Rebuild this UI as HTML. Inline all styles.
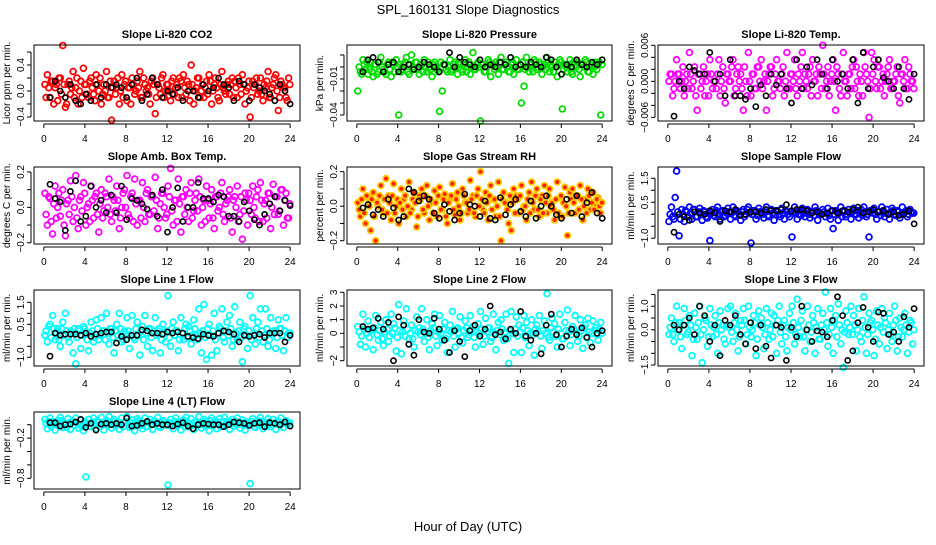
<!DOCTYPE html>
<html><head><meta charset="utf-8"><style>
body{margin:0;background:#fff;}
svg text{font-family:"Liberation Sans",Arial,sans-serif;}
</style></head><body>
<svg id="chart" width="936" height="540" xmlns="http://www.w3.org/2000/svg">
<rect width="936" height="540" fill="#fff"/>
<text x="468" y="14" font-size="13" text-anchor="middle">SPL_160131  Slope Diagnostics</text>
<text x="468" y="531" font-size="13" text-anchor="middle">Hour of Day (UTC)</text>
</svg>
<script>
// ---- data ----
const co2A=[0.1,0.25,-0.1,0.15,0.05,-0.15,0.2,0.7,-0.25,0.1,-0.05,0.3,0.05,-0.2,0.15,0.35,0.1,-0.1,0.2,-0.05,0.25,0.0,-0.2,0.1,0.3,-0.1,-0.45,0.15,0.05,-0.2,0.25,0.1,-0.15,0.05,0.2,-0.05,0.15,0.3,-0.1,0.1,0.05,-0.2,0.2,-0.35,0.1,-0.05,0.25,0.0,0.1,-0.15,0.2,0.05,-0.1,0.15,0.25,-0.05,0.1,0.4,-0.2,0.05,0.2,0.0,-0.1,0.15,0.25,-0.2,0.1,0.05,-0.15,0.3,0.0,0.1,-0.05,0.2,0.15,-0.1,0.1,0.25,-0.2,0.05,-0.4,0.15,0.1,-0.05,0.2,-0.15,0.05,0.3,-0.1,0.1,0.25,-0.3,0.15,0.05,-0.1,0.2];
const co2B=[-0.1,0.05,0.15,-0.2,0.1,0.2,-0.05,0.1,-0.2,0.15,0.05,-0.1,0.2,0.0,-0.1,0.1,-0.05,0.15,0.05,-0.15,0.1,0.2,-0.05,0.0,-0.1,0.15,0.05,-0.05,0.2,0.0,-0.1,0.15,0.05,-0.2,0.1,0.0,0.05,-0.1,0.2,0.0,-0.05,0.15,0.1,-0.1,0.05,0.2,-0.1,0.1,0.0,0.15,-0.05,0.1,0.2,-0.1,0.05,0.15,-0.15,0.1,0.0,0.2,-0.1,0.1,0.05,-0.05,0.15,0.0,0.2,-0.1,0.1,0.05,-0.05,0.15,0.1,-0.1,0.05,0.2,-0.05,0.1,0.0,0.15,-0.1,0.05,0.2,0.0,-0.05,0.1,0.15,-0.1,0.05,0.2,0.0,-0.1,0.1,0.05,-0.15,0.1];
const co2K=[-0.1,0.15,0.0,-0.1,0.1,-0.15,-0.2,-0.05,-0.15,0.1,-0.1,0.1,0.05,0.1,0.05,-0.1,0.1,0.2,-0.15,-0.05,0.2,0.1,-0.1,0.0,-0.05,0.05,-0.15,0.0,0.0,-0.1,0.1,0.0,0.05,0.2,0.1,0.05,-0.15,0.15,0.1,-0.15,0.1,0.05,0.0,-0.05,-0.15,0.1,0.0,-0.2];

const presA=[-0.02,-0.004,0.006,-0.002,-0.006,0.004,-0.008,0.002,-0.004,0.008,-0.002,-0.006,0.004,-0.008,0.002,0.006,-0.04,-0.004,0.002,0.008,-0.006,0.01,-0.002,0.004,-0.006,0.002,0.006,-0.004,0.0,-0.008,0.004,-0.002,-0.037,-0.02,0.002,-0.004,0.006,-0.002,0.004,-0.006,0.002,-0.004,0.006,0.0,-0.006,0.012,-0.002,0.004,-0.045,0.002,-0.004,0.006,-0.008,0.002,0.004,-0.006,0.008,-0.002,0.004,-0.004,0.002,-0.006,0.006,-0.002,-0.03,-0.016,0.008,-0.004,0.002,0.006,-0.002,0.004,-0.006,0.002,0.008,-0.004,0.0,0.004,-0.008,0.006,-0.035,0.002,-0.004,0.006,-0.006,0.002,0.004,-0.008,0.002,0.006,-0.004,0.0,-0.006,0.004,0.002,-0.04];
const presB=[0.0,-0.006,0.002,0.004,-0.002,-0.004,0.002,-0.006,0.004,0.0,-0.004,0.002,-0.002,0.004,-0.004,0.0,0.002,-0.002,0.004,-0.004,0.002,0.0,0.004,-0.002,0.002,-0.004,0.0,0.004,-0.002,0.002,0.0,-0.004,0.004,0.002,-0.002,0.0,-0.004,0.002,0.0,0.004,-0.002,0.002,-0.004,0.004,0.0,-0.002,0.002,0.0,0.002,-0.004,0.0,0.004,0.002,-0.002,0.0,0.004,-0.002,0.002,0.0,-0.004,0.004,0.0,-0.002,0.002,0.004,-0.002,0.0,0.002,-0.004,0.004,0.0,0.002,0.0,-0.002,0.004,0.002,-0.004,0.0,0.002,0.004,-0.002,0.0,0.002,-0.004,0.004,0.0,-0.002,0.002,0.0,0.004,-0.004,0.002,0.0,-0.002,0.004,0.002];
const presK=[-0.004,0.006,0.008,0.004,-0.004,0.002,0.004,-0.004,0.0,0.002,-0.002,0.0,0.004,0.002,0.0,-0.004,0.002,0.012,0.0,0.008,0.004,0.002,0.0,0.006,0.0,0.002,0.0,0.004,0.002,0.008,0.0,0.002,0.0,0.004,0.002,0.0,0.008,0.006,0.0,-0.006,0.002,0.0,0.006,0.002,0.0,0.004,0.002,0.006];

const tempA=[0,0.0012,-0.0012,0.0036,0.0012,0,-0.0024,0.0012,0.0048,-0.0012,0.0024,-0.0048,0.0012,0,-0.0024,0.0012,0.0036,-0.0012,0,0.0012,-0.0024,0.0024,-0.0036,0.0012,0,0.0036,-0.0012,0.0024,0.0012,-0.0048,0,0.0048,-0.0024,0.0012,-0.0012,0.0024,0.0036,0,-0.0048,0.0012,0.0024,-0.0012,0.0036,0,0.0012,-0.0024,0.0048,-0.0012,0.0012,0.0036,-0.0024,0,0.0048,0.0012,-0.0012,0.0024,0.0036,0,-0.0024,0.0012,0.006,-0.0012,0.0024,0,0.0036,-0.0048,0.0012,-0.0024,0.0048,0,0.0012,-0.0012,0.0036,0.0024,-0.0024,0,0.0048,0.0012,-0.006,0.0048,0.0036,-0.0012,0.0024,0,-0.0024,0.0012,0.0036,-0.0012,0,0.0024,-0.0036,0.0012,0.0036,-0.0012,0.0012,0];
const tempB=[0.0012,-0.0024,0,0.0012,-0.0012,0.0024,0,-0.0012,0.0012,0,-0.0024,0.0012,-0.0012,0.0024,0,-0.0024,0.0012,0,-0.0012,0.0036,0,-0.0012,0.0012,0,0.0024,-0.0024,0.0012,0,-0.0012,0.0024,-0.0024,0,0.0012,-0.0012,0.0024,0,-0.0012,0.0012,0,0.0024,-0.0024,0.0012,0,-0.0012,0.0024,0,-0.0012,0.0012,0,-0.0012,0.0012,0.0024,-0.0012,0,0.0012,-0.0024,0,0.0012,0.0024,-0.0012,0.0012,0,-0.0024,0.0012,0,0.0024,-0.0012,0.0012,0,-0.0024,0.0012,0.0024,-0.0012,0,0.0012,-0.0024,0.0024,0,-0.0012,0.0012,0,0.0024,-0.0012,0.0012,0,0.0024,-0.0012,0,0.0012,-0.0024,0.0012,0,-0.0012,0.0024,0,-0.0012];
const tempK=[-0.0058,0.0,-0.0012,0.0024,0.0018,0.0012,0.0012,0.0048,0.0,0.0012,-0.0024,0.0036,-0.0024,-0.0024,-0.003,-0.0012,-0.0042,-0.0006,-0.0024,0.0012,-0.0006,0.0012,-0.0012,-0.0036,0.0036,-0.0012,0.0024,-0.0006,0.0036,0.0012,-0.0012,0.0036,0.0,0.0012,-0.0012,0.0036,-0.0036,0.0048,-0.0012,0.0024,0.0036,0.0006,0.0,-0.0012,0.0024,-0.0012,-0.003,0.0012];

const ambA=[0.08,-0.1,0.05,-0.15,0.12,0.0,-0.05,0.1,-0.16,0.04,0.15,-0.08,0.18,-0.12,0.06,0.14,-0.1,0.02,0.12,-0.06,0.08,-0.14,0.1,-0.02,0.06,0.16,-0.08,0.04,0.12,-0.12,0.0,0.1,0.18,-0.06,0.08,0.16,-0.1,0.04,0.14,-0.08,0.1,-0.04,0.06,0.17,-0.12,0.02,0.08,-0.06,0.12,0.22,-0.1,0.04,0.16,-0.14,0.06,0.1,-0.08,0.14,-0.02,0.08,0.16,-0.1,0.04,0.12,-0.06,0.1,-0.12,0.06,0.0,0.14,-0.08,0.04,0.1,-0.14,0.06,0.12,-0.04,-0.18,0.08,-0.1,0.04,0.12,-0.06,0.1,0.14,-0.08,0.04,0.08,-0.12,0.13,0.06,-0.04,0.1,-0.1,0.08,-0.06];
const ambB=[-0.04,0.06,-0.08,0.02,-0.06,0.08,0.04,-0.1,0.02,-0.04,0.06,0.0,-0.06,0.04,-0.02,0.08,0.0,-0.08,0.04,0.06,-0.04,0.02,-0.06,0.08,0.0,-0.04,0.06,-0.02,0.04,-0.06,0.08,0.0,-0.04,0.06,-0.08,0.02,0.04,-0.06,0.0,0.08,-0.04,0.06,-0.02,0.04,-0.06,0.08,0.0,-0.04,0.06,-0.02,0.04,-0.08,0.02,0.06,-0.04,0.0,0.08,-0.06,0.04,-0.02,0.06,0.0,-0.08,0.04,0.02,-0.06,0.06,-0.02,0.08,-0.04,0.02,0.06,-0.06,0.04,0.0,-0.08,0.06,-0.02,0.04,0.08,-0.04,0.0,0.06,-0.08,0.04,0.02,-0.06,0.08,0.0,-0.04,0.06,-0.02,0.1,0.04,-0.06,0.02];
const ambK=[0.13,0.05,0.03,-0.13,0.09,0.15,-0.08,-0.05,0.12,0.0,0.04,-0.03,0.07,-0.03,0.12,-0.07,0.05,0.04,0.02,-0.01,0.07,-0.05,0.1,-0.14,0.0,0.11,-0.08,0.0,0.0,0.14,0.05,0.05,0.03,0.07,0.06,-0.05,-0.05,-0.08,0.03,-0.02,-0.07,-0.1,-0.04,0.02,0.06,-0.02,0.04,0.01];

const rhA=[0.02,-0.06,0.1,-0.1,0.05,-0.14,0.08,-0.2,0.0,0.12,-0.04,0.16,0.06,-0.08,0.13,0.0,-0.1,0.1,0.04,-0.06,0.14,-0.02,0.08,-0.12,0.06,0.1,-0.04,0.12,-0.08,0.02,0.09,-0.06,0.11,-0.02,0.07,-0.1,0.04,0.13,-0.05,0.08,-0.08,0.1,0.02,-0.04,0.15,0.06,-0.06,0.1,0.2,-0.02,0.08,-0.08,0.12,0.04,-0.06,0.14,-0.2,0.08,0.02,-0.1,-0.14,0.1,0.06,-0.04,0.12,0.0,-0.08,0.08,0.14,-0.02,0.1,-0.06,0.06,0.12,-0.04,0.1,0.02,-0.08,0.14,0.05,-0.06,0.11,-0.17,0.08,0.1,-0.04,0.06,0.12,-0.08,0.04,0.1,-0.02,0.08,0.0,0.05,-0.04];
const rhB=[-0.02,0.04,-0.04,0.06,0.0,0.04,-0.06,0.02,0.06,-0.02,0.04,-0.04,0.02,0.06,-0.04,0.04,0.02,-0.02,0.06,0.0,-0.04,0.04,0.02,-0.06,0.04,-0.02,0.06,0.0,0.04,-0.04,0.02,0.06,-0.02,0.04,-0.06,0.02,0.06,-0.02,0.04,0.0,-0.04,0.06,0.02,-0.02,0.04,-0.04,0.06,0.0,0.04,-0.04,0.02,0.06,-0.02,0.04,0.0,-0.06,0.04,0.02,-0.02,0.06,0.02,-0.04,0.04,0.06,-0.02,0.0,0.04,-0.04,0.02,0.06,-0.02,0.04,-0.04,0.02,0.06,0.0,-0.02,0.04,-0.04,0.06,0.02,0.0,-0.04,0.04,0.02,0.06,-0.02,0.04,0.0,-0.04,0.06,0.02,-0.02,0.04,0.0,0.02];
const rhK=[-0.01,0.01,-0.05,-0.02,-0.06,0.04,-0.01,-0.08,-0.06,0.1,0.08,0.03,0.06,0.04,-0.04,-0.07,0.01,-0.03,-0.08,-0.04,0.07,0.01,0.0,-0.06,0.03,-0.07,-0.08,0.05,-0.05,0.01,0.04,-0.03,-0.06,0.03,-0.07,0.0,0.06,0.0,-0.05,-0.07,0.04,-0.04,0.06,-0.06,0.02,0.08,-0.04,-0.07];

const sfA=[-0.3,0.3,-0.2,1.8,-0.9,0.2,-0.3,0.1,0.3,-0.2,0.2,-0.1,0.25,-0.25,0.1,-0.15,-1.1,0.2,-0.1,0.3,-0.2,0.15,-0.05,0.25,-0.2,0.3,-0.1,0.1,-0.25,0.2,0.0,0.3,-1.2,0.15,-0.2,0.25,0.1,-0.15,0.3,-0.1,0.2,-0.25,0.15,0.0,0.25,-0.2,0.1,-0.1,-0.95,0.3,-0.2,0.15,0.25,-0.1,0.2,-0.15,0.1,0.3,-0.25,0.05,0.2,-0.1,0.25,-0.2,-0.6,0.15,-0.25,0.3,0.1,-0.1,0.2,-0.2,0.25,0.0,-0.15,0.2,0.3,-0.1,-0.95,0.15,0.25,-0.2,0.1,0.3,-0.1,0.2,-0.2,0.25,0.0,0.15,-0.15,0.3,0.1,-0.1,0.2,0.05];
const sfB=[0.0,-0.1,0.7,0.1,-0.2,0.0,0.15,-0.1,0.05,0.2,-0.1,0.1,0.0,0.15,-0.1,0.05,0.1,-0.05,0.15,0.0,0.1,-0.1,0.05,0.1,0.05,-0.05,0.15,0.0,0.1,-0.1,0.2,0.05,0.0,0.15,-0.05,0.1,0.0,0.1,-0.05,0.15,0.05,0.0,0.1,-0.1,0.05,0.15,0.0,0.1,0.05,0.1,0.0,-0.05,0.15,0.05,0.0,0.1,-0.05,0.15,0.05,0.0,0.1,0.05,-0.05,0.15,0.0,0.1,0.05,-0.1,0.15,0.0,0.05,0.1,0.0,0.15,0.05,-0.05,0.1,0.0,0.15,0.05,0.0,0.1,-0.05,0.15,0.05,0.0,0.1,0.15,-0.05,0.1,0.0,0.05,0.15,0.0,0.1,0.05];
const sfK=[-0.75,0.0,-0.1,-0.25,0.1,0.05,0.0,0.15,0.05,-0.3,0.15,0.1,0.2,-0.05,0.0,0.1,0.1,0.05,0.2,0.15,0.15,0.2,0.4,0.15,0.2,0.2,0.15,0.05,0.1,0.0,0.05,0.15,0.05,0.15,0.1,0.2,0.3,0.05,0.1,0.2,0.1,0.15,0.0,0.1,-0.05,0.0,0.15,-0.4];

const l1A=[0.0,-0.3,0.5,0.9,-0.2,0.3,-0.5,0.6,1.0,-0.1,0.2,-0.8,-1.3,0.3,-0.6,0.4,0.1,-0.7,0.6,-0.3,0.7,-0.2,0.8,0.2,1.0,-0.4,0.3,-0.8,0.5,1.0,-0.3,0.2,0.8,-0.6,0.9,-0.2,0.6,-0.9,0.4,0.9,-0.5,0.3,-0.7,0.8,0.2,-0.8,0.5,-0.3,1.8,-0.5,0.6,0.2,-0.7,0.8,-0.2,0.5,0.4,-0.4,0.7,0.0,1.2,-0.8,1.4,-1.1,0.5,-0.9,1.0,-0.7,0.4,1.2,-0.3,0.6,0.9,-0.5,1.3,-0.2,0.6,-1.2,0.4,-0.6,1.8,0.8,-0.4,0.6,1.2,-0.3,1.2,-0.5,0.8,0.2,-0.6,0.7,0.3,-0.7,0.8,0.1];
const l1B=[0.2,0.4,-0.1,0.3,0.1,-0.2,0.3,0.0,0.2,-0.3,0.1,0.3,-0.1,0.2,0.0,0.3,-0.2,0.1,0.2,-0.1,0.3,0.0,0.2,-0.2,0.1,0.3,-0.1,0.2,0.0,0.3,-0.2,0.1,0.2,0.0,-0.1,0.3,0.0,0.2,-0.2,0.1,0.3,-0.1,0.2,0.0,0.3,-0.2,0.1,0.2,-0.1,0.3,0.0,0.2,-0.2,0.1,0.3,-0.1,0.2,0.0,0.3,-0.2,0.1,0.2,-0.1,0.3,0.0,0.2,-0.2,0.1,0.3,-0.1,0.2,0.0,0.3,-0.2,0.1,0.2,-0.1,0.3,0.0,0.2,-0.2,0.1,0.3,-0.1,0.2,0.0,0.3,-0.2,0.1,0.2,-0.1,0.3,0.0,0.2,-0.1,0.1];
const l1K=[-0.95,0.1,0.0,0.05,0.05,0.05,0.0,0.1,-0.05,0.05,0.1,0.15,0.15,-0.35,-0.05,-0.2,0.0,0.0,0.25,0.2,0.1,0.1,0.05,0.15,0.1,0.15,0.1,-0.05,-0.1,-0.15,0.05,0.0,-0.05,0.1,0.2,0.15,0.05,-0.3,0.0,-0.05,0.0,0.05,-0.1,0.1,0.1,0.1,-0.3,0.0];

const l2A=[0.5,-0.8,1.4,-1.0,0.9,0.3,-1.2,1.3,-0.5,0.8,-0.9,1.0,-0.6,1.4,0.7,-1.3,2.1,-1.5,0.9,1.8,-0.4,0.6,-1.0,1.2,0.4,1.8,-0.6,1.0,-1.2,0.7,1.4,-0.9,1.3,-0.5,0.8,-1.4,0.6,1.6,-1.0,0.4,1.2,-0.7,0.9,-0.3,1.3,0.5,-1.0,0.7,1.6,-0.8,1.1,0.4,-0.6,1.4,-1.2,0.8,1.0,-0.5,1.4,-2.2,1.6,-1.4,1.2,0.6,-1.4,1.3,0.8,-0.9,1.0,-1.6,0.6,1.3,-1.1,0.9,2.9,-0.5,1.1,0.7,-1.0,1.4,-0.4,0.8,1.7,-0.9,0.5,1.3,-0.6,1.0,-1.1,0.6,1.1,-0.7,0.9,0.4,-0.5,0.8];
const l2B=[0.1,-0.2,0.3,0.0,-0.3,0.2,0.4,-0.1,0.2,-0.4,0.1,0.3,-0.2,0.0,0.4,-0.3,0.2,0.1,-0.2,0.3,0.0,-0.4,0.2,0.1,-0.1,0.3,0.0,-0.3,0.2,0.4,-0.2,0.1,0.0,0.3,-0.4,0.2,0.1,-0.2,0.3,0.0,-0.3,0.2,0.4,-0.1,0.2,-0.3,0.1,0.0,0.3,-0.2,0.1,0.4,-0.3,0.0,0.2,-0.1,0.3,0.1,-0.4,0.2,0.0,0.3,-0.2,0.1,0.4,-0.3,0.2,0.0,-0.1,0.3,0.1,-0.2,0.2,0.0,-0.3,0.4,0.1,-0.2,0.3,0.0,-0.4,0.2,0.1,-0.1,0.3,0.0,-0.2,0.2,0.4,-0.3,0.1,0.0,0.2,-0.1,0.3,0.0];
const l2K=[0.5,0.3,0.4,1.1,0.3,0.8,-2.0,1.2,0.6,-0.8,-1.6,1.0,0.1,0.0,1.1,0.3,-0.5,-1.4,0.2,-0.6,-1.7,0.2,0.6,-0.2,0.3,2.0,-0.1,0.1,-0.4,0.3,0.0,1.6,-0.2,-0.5,0.0,-1.5,0.6,1.4,-0.1,-1.0,-0.2,0.3,-0.1,0.4,-0.3,-1.0,0.0,0.2];

const l3A=[-0.2,0.5,-0.5,1.0,0.3,-0.8,0.9,-0.2,0.6,-1.1,0.7,-0.4,1.0,-1.4,0.5,-0.7,0.9,-0.3,0.6,-1.0,0.8,0.2,-0.6,0.9,1.0,-0.5,0.7,-0.9,0.4,0.9,-0.6,1.0,-0.3,0.6,-1.1,0.8,0.5,-0.8,0.9,-0.4,0.7,0.6,-1.0,1.0,-0.6,0.4,-0.9,0.7,1.0,-0.6,1.3,-0.3,0.8,-0.9,1.0,-0.5,0.6,-1.0,0.9,-0.4,0.7,1.6,-0.7,0.9,-1.0,0.6,1.1,-0.6,-1.6,0.8,-0.2,1.0,0.6,-0.9,0.9,-0.5,1.4,-1.0,0.7,0.4,-1.1,0.8,-0.6,0.9,0.5,-0.8,0.7,-0.5,1.0,-0.9,0.5,-0.3,0.7,-1.0,0.4,-0.6];
const l3B=[0.1,-0.2,0.3,0.0,-0.3,0.2,0.4,-0.1,0.2,-0.4,0.1,0.3,-0.2,0.0,0.4,-0.3,0.2,0.1,-0.2,0.3,0.0,-0.4,0.2,0.1,-0.1,0.3,0.0,-0.3,0.2,0.4,-0.2,0.1,0.0,0.3,-0.4,0.2,0.1,-0.2,0.3,0.0,-0.3,0.2,0.4,-0.1,0.2,-0.3,0.1,0.0,0.3,-0.2,0.1,0.4,-0.3,0.0,0.2,-0.1,0.3,0.1,-0.4,0.2,0.0,0.3,-0.2,0.1,0.4,-0.3,0.2,0.0,-0.1,0.3,0.1,-0.2,0.2,0.0,-0.3,0.4,0.1,-0.2,0.3,0.0,-0.4,0.2,0.1,-0.1,0.3,0.0,-0.2,0.2,0.4,-0.3,0.1,0.0,0.2,-0.1,0.3,0.0];
const l3K=[0.2,0.0,0.2,0.5,-0.2,1.0,0.6,-0.5,0.2,-1.1,0.4,0.2,0.6,-0.2,-0.6,0.3,-0.8,0.2,-0.7,-1.2,0.2,0.1,-1.3,0.1,-0.3,1.0,0.0,-0.5,-0.05,-0.1,-0.3,0.4,1.4,0.6,-1.3,-0.9,0.3,0.95,0.1,-0.5,0.75,0.7,-0.2,-0.1,-0.5,0.55,0.1,0.9];

const l4A=[0.08,-0.06,0.1,0.02,-0.08,0.06,0.11,-0.04,0.0,0.09,-0.07,0.05,0.1,-0.05,0.07,-0.09,-0.78,0.08,-0.03,0.1,-0.06,0.04,0.11,-0.08,0.06,0.12,-0.05,0.08,0.0,-0.07,0.1,0.03,0.12,-0.04,0.07,-0.09,0.09,0.02,-0.06,0.1,-0.02,0.08,-0.07,0.05,0.11,-0.04,0.06,0.0,-0.9,0.08,-0.06,0.1,0.03,-0.08,0.07,0.11,-0.03,0.09,-0.07,0.05,0.12,-0.05,0.08,0.0,-0.09,0.1,0.04,-0.06,0.09,-0.02,0.11,0.05,-0.07,0.08,0.02,0.1,-0.05,0.07,-0.08,0.04,-0.88,0.09,-0.04,0.06,0.11,-0.06,0.03,0.09,-0.03,0.08,-0.07,0.05,0.1,-0.04,0.06,0.02];
const l4B=[0.02,0.05,-0.03,0.04,0.0,-0.02,0.06,0.01,-0.04,0.03,0.05,-0.01,0.03,0.0,-0.03,0.05,0.02,-0.02,0.04,0.0,0.06,-0.03,0.02,0.04,-0.01,0.03,0.05,-0.02,0.04,0.01,-0.03,0.05,0.0,0.03,-0.02,0.04,0.06,-0.01,0.02,-0.03,0.04,0.0,0.05,0.02,-0.02,0.03,0.05,-0.01,0.03,0.0,0.05,-0.02,0.04,0.02,-0.03,0.05,0.01,-0.01,0.04,0.02,0.0,0.05,-0.02,0.03,0.06,-0.01,0.02,0.04,-0.03,0.05,0.0,0.03,0.04,-0.02,0.05,0.01,0.03,-0.01,0.04,0.02,0.05,-0.03,0.03,0.0,0.05,0.02,-0.02,0.04,0.0,0.03,0.05,-0.01,0.02,0.04,0.0,0.03];
const l4K=[0.03,0.03,-0.02,0.0,0.01,0.04,0.08,-0.04,0.02,-0.08,0.01,0.02,0.0,0.02,0.0,0.1,-0.02,-0.01,0.02,0.05,0.0,0.02,0.0,0.0,-0.02,0.01,0.03,-0.02,-0.06,0.0,0.02,0.01,0.0,0.0,-0.03,0.0,0.04,0.03,0.02,-0.01,0.02,0.03,-0.03,0.03,0.02,0.0,0.04,-0.02];

const xTicks=[0,4,8,12,16,20,24];

// ---- panels ----
const COLS=[[34,300],[347,612],[658,924]];
const ROWS=[[45,121],[167,244],[290,366],[412,489]];
const panels=[
 {name:'co2',title:'Slope Li-820 CO2',ylab:'Licor ppm per min.',c:0,r:0,ymin:-0.462,ymax:0.708,ticks:[-0.4,-0.2,0,0.2,0.4,0.6],labels:{'-0.4':'-0.4','0':'0.0','0.4':'0.4'},A:co2A,B:co2B,K:co2K,col:'#ff0000'},
 {name:'pressure',title:'Slope Li-820 Pressure',ylab:'kPa per min.',c:1,r:0,ymin:-0.045,ymax:0.0183,ticks:[-0.04,-0.03,-0.02,-0.01,0,0.01],labels:{'-0.04':'-0.04','-0.01':'-0.01'},A:presA,B:presB,K:presK,col:'#00dd00'},
 {name:'temp',title:'Slope Li-820 Temp.',ylab:'degrees C per min.',c:2,r:0,ymin:-0.0066,ymax:0.00605,ticks:[-0.006,-0.004,-0.002,0,0.002,0.004,0.006],labels:{'-0.006':'-0.006','0':'0.000','0.006':'0.006'},A:tempA,B:tempB,K:tempK,col:'#ff00ff'},
 {name:'amb-box-temp',title:'Slope Amb. Box Temp.',ylab:'degrees C per min.',c:0,r:1,ymin:-0.207,ymax:0.228,ticks:[-0.2,-0.1,0,0.1,0.2],labels:{'-0.2':'-0.2','0':'0.0','0.2':'0.2'},A:ambA,B:ambB,K:ambK,col:'#ff00ff'},
 {name:'gas-stream-rh',title:'Slope Gas Stream RH',ylab:'percent per min.',c:1,r:1,ymin:-0.219,ymax:0.227,ticks:[-0.2,-0.1,0,0.1,0.2],labels:{'-0.2':'-0.2','0':'0.0','0.2':'0.2'},A:rhA,B:rhB,K:rhK,col:'#ffc800',fill:'#ff2000'},
 {name:'sample-flow',title:'Slope Sample Flow',ylab:'ml/min per min.',c:2,r:1,ymin:-1.24,ymax:1.97,ticks:[-1,-0.5,0,0.5,1,1.5],labels:{'-1':'-1.0','0.5':'0.5','1.5':'1.5'},A:sfA,B:sfB,K:sfK,col:'#0000ff'},
 {name:'line1-flow',title:'Slope Line 1 Flow',ylab:'ml/min per min.',c:0,r:2,ymin:-1.395,ymax:2.06,ticks:[-1,-0.5,0,0.5,1,1.5],labels:{'-1':'-1.0','0.5':'0.5','1.5':'1.5'},A:l1A,B:l1B,K:l1K,col:'#00ffff'},
 {name:'line2-flow',title:'Slope Line 2 Flow',ylab:'ml/min per min.',c:1,r:2,ymin:-2.39,ymax:3.17,ticks:[-2,-1,0,1,2,3],labels:{'-2':'-2','0':'0','1':'1','2':'2','3':'3'},A:l2A,B:l2B,K:l2K,col:'#00ffff'},
 {name:'line3-flow',title:'Slope Line 3 Flow',ylab:'ml/min per min.',c:2,r:2,ymin:-1.54,ymax:1.69,ticks:[-1.5,-1,-0.5,0,0.5,1,1.5],labels:{'-1.5':'-1.5','0':'0.0','1':'1.0'},A:l3A,B:l3B,K:l3K,col:'#00ffff'},
 {name:'line4-flow',title:'Slope Line 4 (LT) Flow',ylab:'ml/min per min.',c:0,r:3,ymin:-0.96,ymax:0.19,ticks:[-0.8,-0.6,-0.4,-0.2,0],labels:{'-0.8':'-0.8','-0.2':'-0.2'},A:l4A,B:l4B,K:l4K,col:'#00ffff'}
];
const NS='http://www.w3.org/2000/svg';
const svg=document.getElementById('chart');
function mk(tag,attrs,parent){const e=document.createElementNS(NS,tag);for(const k in attrs)e.setAttribute(k,attrs[k]);(parent||svg).appendChild(e);return e;}

panels.forEach(p=>{
  const [x0,x1]=COLS[p.c],[y0,y1]=ROWS[p.r];
  const g=mk('g',{});
  
  
  const xs=h=>x0+(h+0.96)/25.92*(x1-x0);
  const ys=v=>y1-(v-p.ymin)/(p.ymax-p.ymin)*(y1-y0);
  const t=mk('text',{x:(x0+x1)/2,y:y0-7,'font-size':11,'font-weight':'bold','text-anchor':'middle'},g);
  t.textContent=p.title;
  
  
  const yt=mk('text',{x:0,y:0,'font-size':10,'text-anchor':'middle',transform:`translate(${x0-24},${(y0+y1)/2}) rotate(-90)`},g);
  yt.textContent=p.ylab;
  
  
  const pg=mk('g',{fill:p.fill||'none',stroke:p.col,'stroke-width':1.8},g);
  
  
  const plot=(arr,off,step,grp,r)=>arr.forEach((v,i)=>{
    const c=mk('circle',{cx:xs(off+i*step).toFixed(1),cy:ys(v).toFixed(1),r:r},grp);
    
    
  });
  plot(p.A,0.1,0.25,pg,2.9);
  plot(p.B,0.22,0.25,pg,2.9);
  const kg=mk('g',{fill:'none',stroke:'#000','stroke-width':1.6},g);
  
  
  plot(p.K,0.6,23.4/47,kg,2.6);
  const b=mk('rect',{x:x0,y:y0,width:x1-x0,height:y1-y0,fill:'none',stroke:'#000','stroke-width':1},g);
  
  
  mk('line',{x1:xs(0),x2:xs(24),y1:y1+3,y2:y1+3,stroke:'#000'},g);
  xTicks.forEach(h=>{
    mk('line',{x1:xs(h),x2:xs(h),y1:y1+3,y2:y1+7,stroke:'#000'},g);
    const l=mk('text',{x:xs(h),y:y1+21,'font-size':10,'text-anchor':'middle'},g);
    l.textContent=h;
    
    
  });
  const tv=p.ticks;
  mk('line',{x1:x0-3,x2:x0-3,y1:ys(tv[0]),y2:ys(tv[tv.length-1]),stroke:'#000'},g);
  tv.forEach(v=>{
    mk('line',{x1:x0-7,x2:x0-3,y1:ys(v),y2:ys(v),stroke:'#000'},g);
    const key=String(v);
    if(p.labels[key]!==undefined){
      const l=mk('text',{x:0,y:0,'font-size':10,'text-anchor':'middle',transform:`translate(${x0-10},${ys(v)}) rotate(-90)`},g);
      l.textContent=p.labels[key].replace('-','\u2212');
      
      
    }
  });
});
</script>
</body></html>
